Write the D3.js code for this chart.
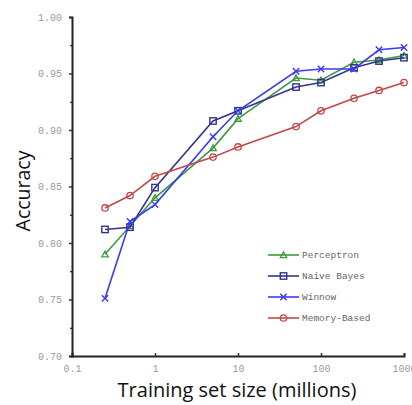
<!DOCTYPE html>
<html>
<head>
<meta charset="utf-8">
<script src="https://cdn.jsdelivr.net/npm/d3@7"></script>
<style>
  body { margin: 0; background: #fff; }
</style>
</head>
<body>
<div id="chart"></div>
<script>
// Data
var sizes        = [ 0.25, 0.5, 1, 5, 10, 50, 100, 250, 500, 1000 ];
var perceptron   = [ 0.790, 0.815, 0.840, 0.884, 0.910, 0.946, 0.944, 0.960, 0.962, 0.966 ];
var naiveBayes   = [ 0.812, 0.814, 0.849, 0.908, 0.917, 0.938, 0.942, 0.955, 0.961, 0.964 ];
var winnow       = [ 0.751, 0.819, 0.834, 0.894, 0.917, 0.952, 0.954, 0.954, 0.971, 0.973 ];
var memoryBased  = [ 0.831, 0.842, 0.859, 0.876, 0.885, 0.903, 0.917, 0.928, 0.935, 0.942 ];
var seriesNames  = [ "Perceptron", "Naive Bayes", "Winnow", "Memory-Based" ];
var xTicks       = [ 0.1, 1, 10, 100, 1000 ];
var yTicks       = [ 0.70, 0.75, 0.80, 0.85, 0.90, 0.95, 1.00 ];
var yMinor       = [ 0.725, 0.775, 0.825, 0.875, 0.925, 0.975 ];

var chart_width  = 412;
var chart_height = 405;

var series = [
  { name: seriesNames[0], values: perceptron,  color: "#3f9c3f", marker: "triangle" },
  { name: seriesNames[1], values: naiveBayes,  color: "#34348f", marker: "square" },
  { name: seriesNames[2], values: winnow,      color: "#3a3af0", marker: "cross" },
  { name: seriesNames[3], values: memoryBased, color: "#c04848", marker: "circle" }
];

// Scales
var x = d3.scaleLog().domain([ 0.1, 1000 ]).range([ 72, 404 ]);
var y = d3.scaleLinear().domain([ 0.70, 1.00 ]).range([ 356, 17 ]);

var svg = d3.select("#chart")
    .append("svg")
    .attr("width", chart_width)
    .attr("height", chart_height);

// Axes
var xAxis = d3.axisBottom(x)
    .tickValues(xTicks)
    .tickSize(-3)
    .tickFormat(function(d){ return String(d); });
var gx = svg.append("g")
    .attr("transform", "translate(0,356)")
    .call(xAxis);

var yAxis = d3.axisLeft(y)
    .tickValues(yTicks)
    .tickSize(3)
    .tickFormat(d3.format(".2f"));
var gy = svg.append("g")
    .attr("transform", "translate(72,0)")
    .call(yAxis);

svg.append("g")
    .attr("transform", "translate(72,0)")
    .call(d3.axisLeft(y).tickValues(yMinor).tickSize(2).tickFormat(""))
    .select(".domain").remove();

[gx, gy].forEach(function(g){
  g.select(".domain").attr("stroke", "#222").attr("stroke-width", 2);
  g.selectAll(".tick line").attr("stroke", "#333").attr("stroke-width", 1.5);
  g.selectAll(".tick text")
    .attr("fill", "#9a9a9a")
    .style("font-family", "'Liberation Mono', 'DejaVu Sans Mono', monospace")
    .style("font-size", "10px");
});
gx.selectAll(".tick text").attr("dy", "1.3em");
gy.selectAll(".tick text").attr("dx", "-0.4em");

// Axis titles
svg.append("text")
    .attr("x", 237)
    .attr("y", 397)
    .attr("text-anchor", "middle")
    .style("font-family", "'Open Sans', sans-serif")
    .style("font-size", "20px")
    .attr("fill", "#111")
    .text("Training set size (millions)");

svg.append("text")
    .attr("transform", "translate(30,191) rotate(-90)")
    .attr("text-anchor", "middle")
    .style("font-family", "'Open Sans', sans-serif")
    .style("font-size", "19.5px")
    .attr("fill", "#111")
    .text("Accuracy");

// Markers
function drawMarker(g, type, color, cx, cy){
  var s = 3.2;
  if (type === "triangle") {
    g.append("path")
      .attr("d", "M" + cx + "," + (cy - s) + "L" + (cx + s) + "," + (cy + s * 0.8) + "L" + (cx - s) + "," + (cy + s * 0.8) + "Z")
      .attr("fill", "none").attr("stroke", color).attr("stroke-width", 1.3);
  } else if (type === "square") {
    g.append("rect")
      .attr("x", cx - s).attr("y", cy - s).attr("width", 2 * s).attr("height", 2 * s)
      .attr("fill", "none").attr("stroke", color).attr("stroke-width", 1.4);
  } else if (type === "cross") {
    g.append("path")
      .attr("d", "M" + (cx - s) + "," + (cy - s) + "L" + (cx + s) + "," + (cy + s) + "M" + (cx - s) + "," + (cy + s) + "L" + (cx + s) + "," + (cy - s))
      .attr("stroke", color).attr("stroke-width", 1.4);
  } else {
    g.append("circle")
      .attr("cx", cx).attr("cy", cy).attr("r", s)
      .attr("fill", "none").attr("stroke", color).attr("stroke-width", 1.3);
  }
}

var line = d3.line()
    .x(function(d, i){ return x(sizes[i]); })
    .y(function(d){ return y(d); });

series.forEach(function(s){
  var g = svg.append("g");
  g.append("path")
    .attr("d", line(s.values))
    .attr("fill", "none")
    .attr("stroke", s.color)
    .attr("stroke-width", 1.6);
  s.values.forEach(function(v, i){
    drawMarker(g, s.marker, s.color, x(sizes[i]), y(v));
  });
});

// Legend
var legend = svg.append("g");
series.forEach(function(s, i){
  var ly = 255 + i * 21;
  legend.append("line")
    .attr("x1", 268).attr("x2", 299)
    .attr("y1", ly).attr("y2", ly)
    .attr("stroke", s.color).attr("stroke-width", 1.6);
  drawMarker(legend, s.marker, s.color, 283.5, ly);
  legend.append("text")
    .attr("x", 302)
    .attr("y", ly + 3)
    .attr("fill", "#666")
    .style("font-family", "'Liberation Mono', 'DejaVu Sans Mono', monospace")
    .style("font-size", "9.5px")
    .text(s.name);
});
</script>
</body>
</html>
